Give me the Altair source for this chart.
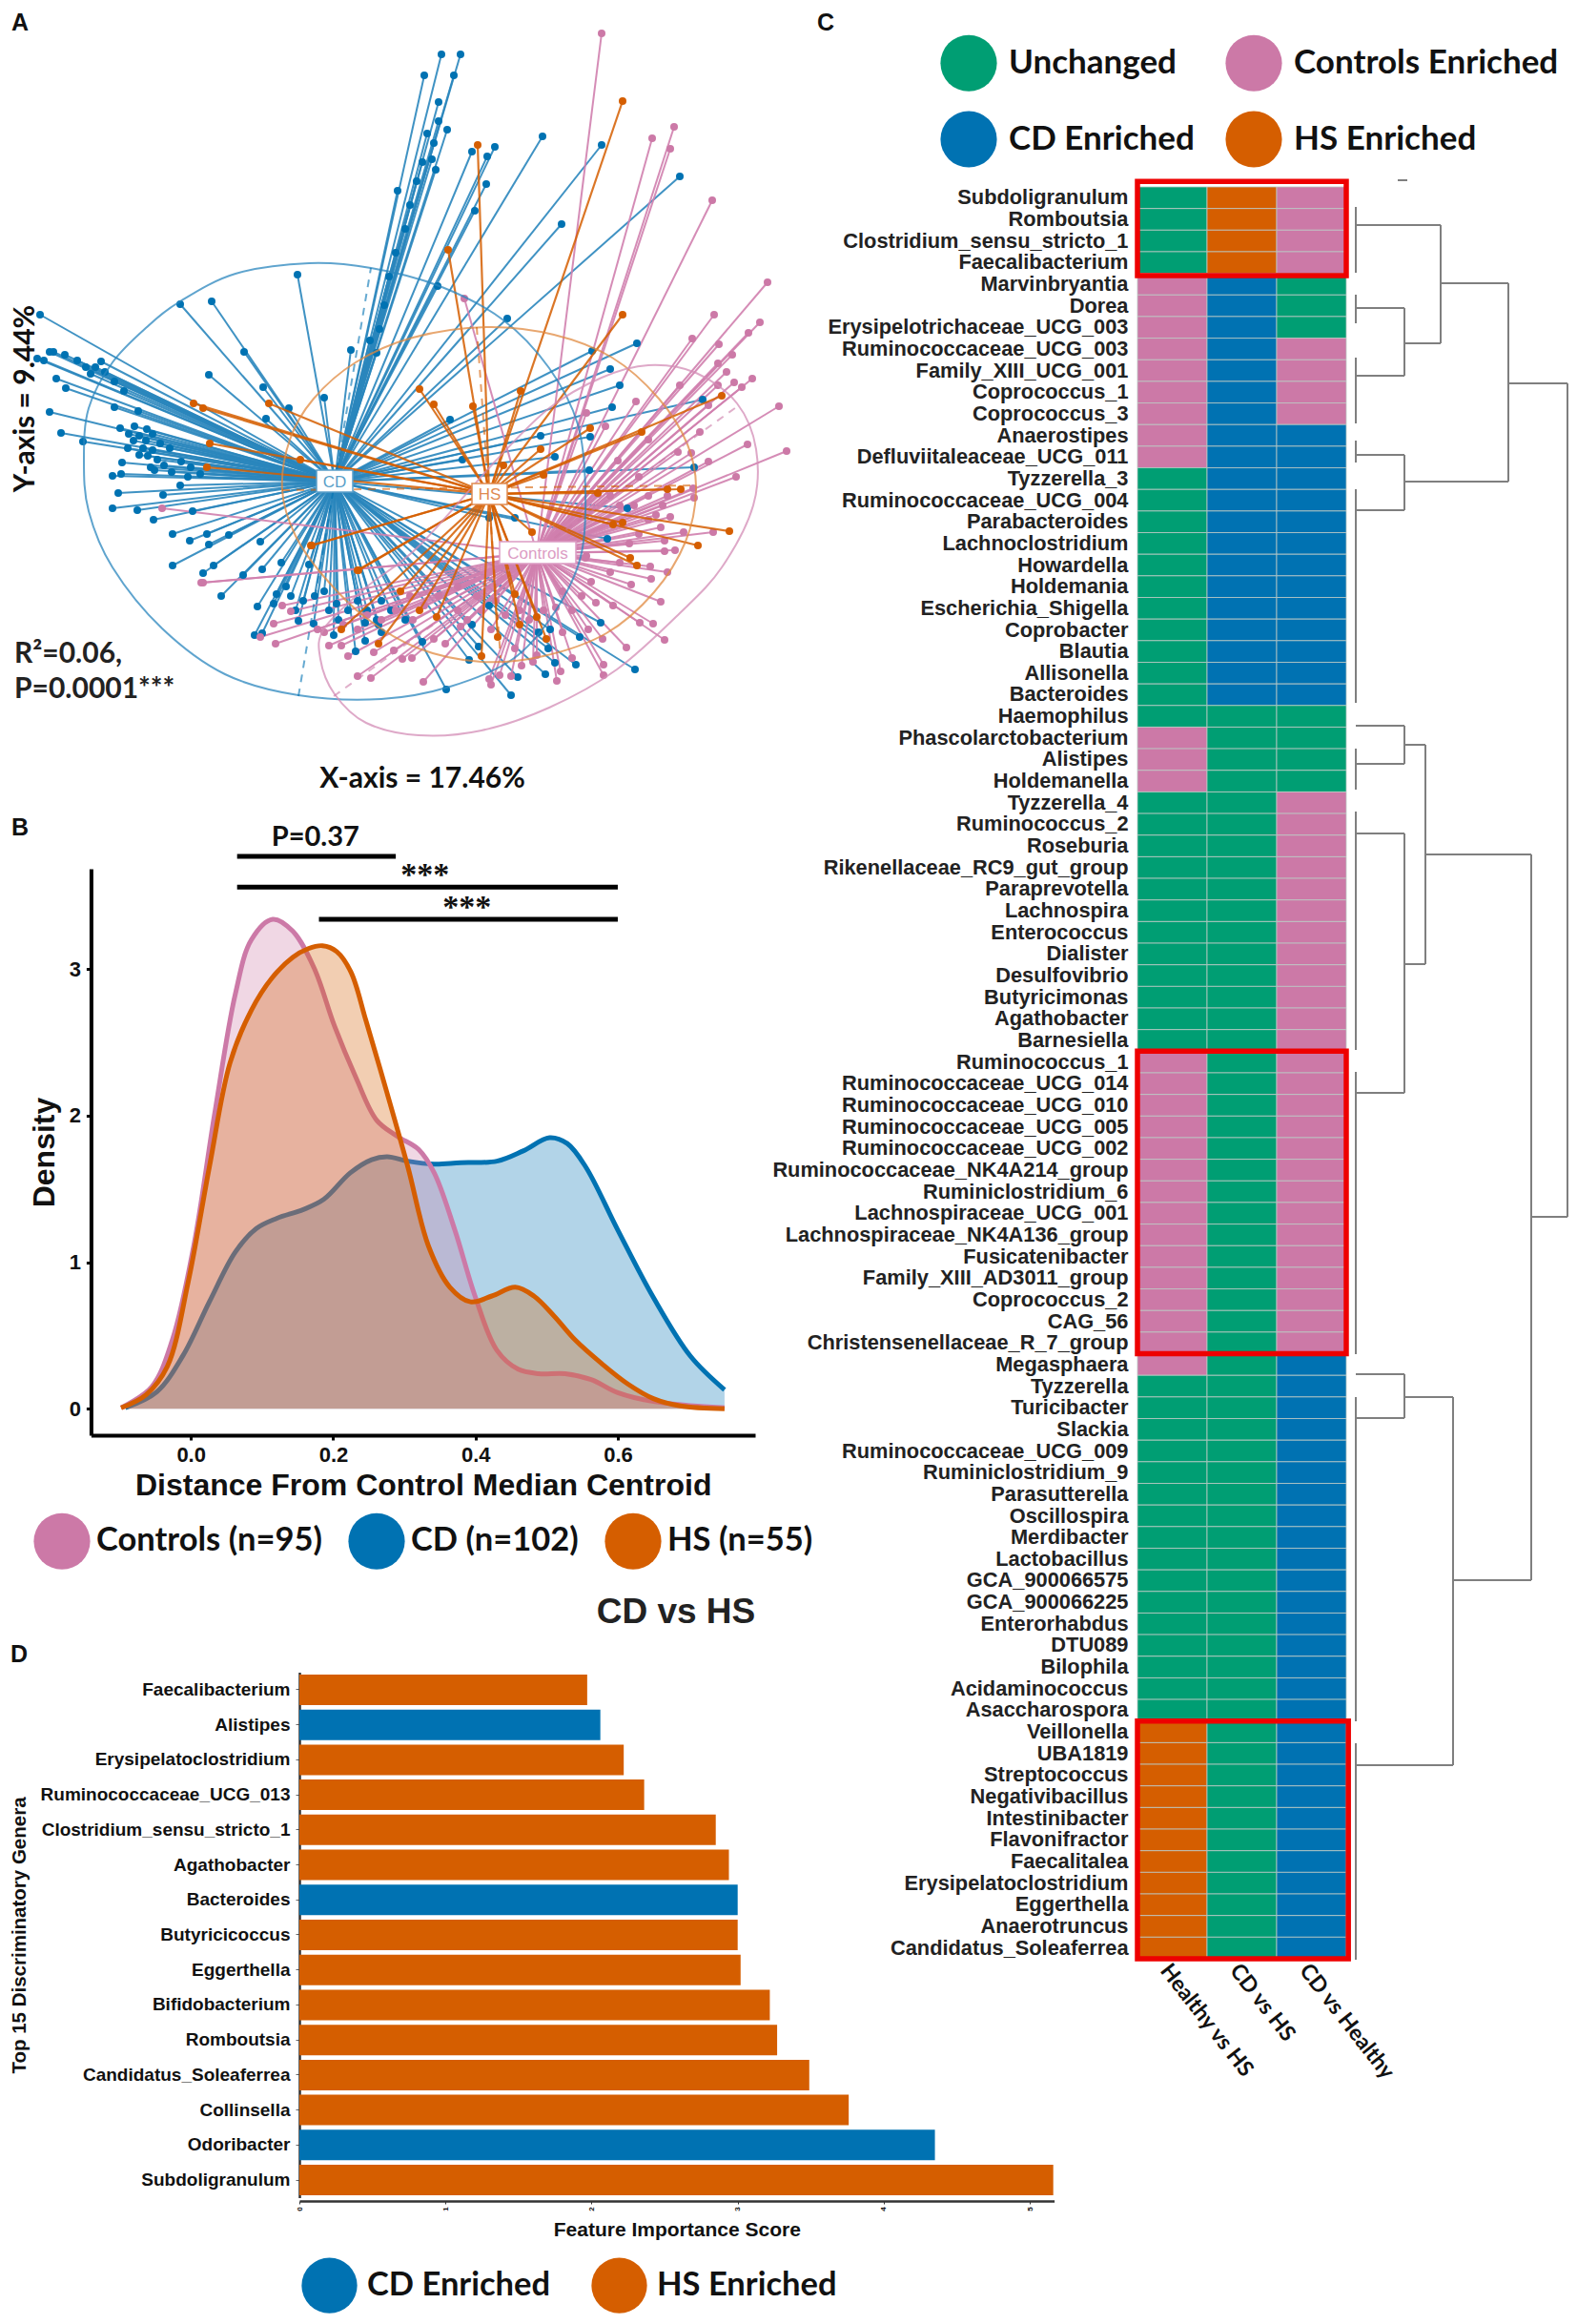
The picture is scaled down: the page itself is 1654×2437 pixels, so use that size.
import altair as alt
import pandas as pd

W, H = 1638, 2421
M = 8  # page margin
PINK, BLUE, ORANGE, GREEN = "#CC79A7", "#0072B2", "#D55E00", "#009E73"

# ---------- Panel A: PCoA (axis units) ----------
centroid_cd = (351, 505)
centroid_hs = (513, 518)
centroid_ctrl = (563, 580)

cd_points = [
    (463,57),(483,57),(445,79),(476,79),(460,107),(460,127),(469,136),(453,167),(457,178),(417,200),
    (495,159),(511,164),(519,154),(510,193),(498,221),(569,143),(631,152),(589,235),(713,185),(312,288),
    (42,330),(39,376),(46,378),(52,369),(56,369),(68,372),(81,378),(106,379),(59,397),(69,407),
    (52,432),(64,454),(87,463),(120,427),(126,449),(145,431),(141,447),(146,457),(154,450),(153,462),
    (134,470),(146,477),(128,485),(162,493),(118,499),(127,497),(197,500),(124,517),(189,509),(171,519),
    (118,533),(144,535),(202,536),(161,545),(181,560),(199,567),(217,560),(219,571),(240,561),(273,568),
    (181,593),(213,601),(224,593),(255,603),(275,597),(295,590),(324,592),(256,369),(276,406),(303,428),
    (279,439),(219,393),(189,319),(222,316),(340,417),(368,367),(388,357),(267,666),(275,664),(232,625),
    (270,636),(287,633),(290,623),(300,615),(313,651),(329,654),(350,666),(373,683),(383,672),(383,653),
    (400,663),(397,655),(443,673),(468,723),(492,692),(502,678),(495,655),(513,635),(536,729),(543,710),
    (572,707),(582,695),(604,697),(608,668),(630,653),(666,702),(575,680),(565,663),(577,660),(353,633),
    (400,630),(637,565),(540,543),(513,543),(668,360),(621,368),(640,387),(650,404),(642,427),(619,458),
    (567,457),(582,479),(532,334),(485,482),(618,493),(737,419),(728,490),(658,533),(459,300),(472,440),
    (150,470),(155,478),(160,472),(165,482),(158,490),(172,488),(180,495),(190,484),(200,490),(210,497),
    (140,462),(135,455),(160,455),(168,465),(178,470),(100,385),(110,390),(120,400),(130,410),(90,385),(95,392),
    (448,140),(455,150),(443,170),(437,190),(430,215),(425,240),(415,265),(408,290),(403,320),(398,345),(395,370),
    (345,640),(355,650),(365,640),(375,630),(340,620),(330,625),(310,640),(318,630),(305,625),(385,640),(395,650),(410,640),(425,650),
]

hs_points = [
    (501,152),(653,106),(470,262),(653,330),(440,408),(455,424),(496,426),(546,410),(203,423),(213,428),
    (282,423),(220,465),(217,490),(315,482),(327,572),(375,598),(619,449),(567,471),(528,488),(570,498),
    (673,453),(757,415),(700,513),(714,513),(765,557),(732,572),(661,585),(668,593),(643,550),(653,548),
    (627,517),(558,558),(358,660),(397,675),(458,647),(505,688),(573,670),(563,647),(545,655),(522,668),
    (540,623),(376,598),(326,572),(440,640),(420,620),
]

ctrl_points = [
    (631,35),(707,133),(684,145),(703,156),(747,210),(805,296),(487,313),(749,330),(726,355),(754,361),
    (797,338),(785,349),(768,372),(753,381),(762,390),(789,397),(770,401),(778,406),(753,404),(713,404),
    (667,421),(743,425),(817,426),(734,453),(784,466),(825,473),(743,484),(711,474),(725,475),(680,461),
    (635,447),(615,433),(772,500),(727,512),(728,522),(695,530),(703,542),(688,540),(693,553),(748,558),
    (717,558),(697,567),(708,577),(697,578),(648,483),(670,500),(615,583),(627,518),(213,611),(287,654),
    (273,668),(289,675),(296,635),(305,641),(333,660),(345,677),(358,677),(365,688),(392,684),(413,682),
    (422,691),(432,690),(375,709),(389,711),(444,715),(455,670),(467,675),(513,712),(515,718),(524,708),
    (536,709),(547,698),(559,694),(588,704),(584,714),(633,697),(633,708),(632,670),(657,679),(671,653),
    (685,654),(643,635),(625,632),(662,613),(683,607),(682,594),(614,585),(693,631),(697,671),(583,637),
    (340,663),(483,657),(433,650),(540,680),(617,660),(563,687),(590,663),(170,533),(211,611),(600,690),
    (480,640),(490,650),(505,640),(515,660),(530,645),(545,640),(555,650),(570,640),(520,630),(500,625),
    (480,615),(460,625),(445,635),(430,625),(415,640),(400,650),(385,645),(375,660),(360,655),(600,640),
    (610,625),(640,600),(650,590),(660,570),(670,560),(680,545),(700,520),(665,530),(650,530),(640,520),
    (680,520),(620,610),(590,620),(700,600),
]

blue_ring = [(88,482),(93,428),(118,380),(154,343),(189,316),(247,287),(324,276),(389,281),(461,300),(527,335),
             (576,386),(606,445),(614,514),(609,584),(581,643),(538,691),(472,720),(400,733),(313,729),(236,707),
             (170,659),(118,595),(93,536)]
orange_ring = [(296,514),(304,461),(329,418),(373,380),(433,354),(510,343),(581,351),(642,375),(691,418),(721,466),
               (730,514),(719,568),(686,621),(636,664),(570,688),(505,694),(439,680),(384,648),(340,605),(310,562)]
pink_ring = [(631,396),(680,383),(730,391),(773,423),(793,471),(790,530),(757,595),(713,643),(647,702),(576,742),
             (505,766),(439,771),(384,758),(351,728),(336,691),(340,659),(384,616),(439,573),(521,482),(576,428)]

major_axes = [
    (BLUE, 313, 730, 389, 281),
    (PINK, 350, 730, 775, 425),
    (ORANGE, 500, 343, 525, 690),
    (ORANGE, 296, 514, 730, 509),
]

# ---------- Panel B: density ----------
dens_ctrl_x = [-0.098,-0.055,-0.026,0.004,0.033,0.0625,0.085,0.115,0.143,0.173,0.202,0.232,0.261,0.29,0.32,0.342,0.371,0.40,0.43,0.46,0.489,0.526,0.5625,0.6,0.65,0.75]
dens_ctrl_y = [0.007,0.15,0.47,1.11,2.0,2.83,3.2,3.34,3.26,3.01,2.61,2.26,1.97,1.86,1.77,1.61,1.22,0.76,0.40,0.27,0.24,0.24,0.2,0.11,0.05,0.007]
dens_cd_x = [-0.092,-0.048,-0.011,0.026,0.0625,0.092,0.121,0.158,0.187,0.224,0.254,0.276,0.305,0.342,0.379,0.43,0.467,0.504,0.529,0.555,0.6,0.65,0.702,0.75]
dens_cd_y = [0.007,0.115,0.364,0.73,1.07,1.23,1.3,1.36,1.43,1.61,1.70,1.72,1.69,1.67,1.68,1.69,1.76,1.85,1.81,1.65,1.22,0.76,0.36,0.13]
dens_hs_x = [-0.098,-0.063,-0.033,-0.004,0.026,0.055,0.085,0.114,0.143,0.165,0.185,0.205,0.225,0.246,0.276,0.305,0.334,0.364,0.393,0.423,0.456,0.482,0.511,0.54,0.577,0.614,0.65,0.688,0.75]
dens_hs_y = [0.007,0.096,0.29,0.86,1.65,2.36,2.72,2.94,3.08,3.14,3.16,3.12,2.98,2.65,2.15,1.65,1.11,0.83,0.73,0.77,0.83,0.77,0.63,0.47,0.31,0.17,0.07,0.02,0.0]
groups_b = ["Controls (n=95)", "CD (n=102)", "HS (n=55)"]
sig_bars = [(0.065,0.288,3.77),(0.065,0.6,3.56),(0.18,0.6,3.34)]
sig_text = [(0.175,3.90,"P=0.37",False),(0.329,3.64,"***",True),(0.388,3.42,"***",True)]

# ---------- Panel C: heatmap ----------
genera = [
 "Subdoligranulum","Romboutsia","Clostridium_sensu_stricto_1","Faecalibacterium","Marvinbryantia","Dorea",
 "Erysipelotrichaceae_UCG_003","Ruminococcaceae_UCG_003","Family_XIII_UCG_001","Coprococcus_1","Coprococcus_3",
 "Anaerostipes","Defluviitaleaceae_UCG_011","Tyzzerella_3","Ruminococcaceae_UCG_004","Parabacteroides",
 "Lachnoclostridium","Howardella","Holdemania","Escherichia_Shigella","Coprobacter","Blautia","Allisonella",
 "Bacteroides","Haemophilus","Phascolarctobacterium","Alistipes","Holdemanella","Tyzzerella_4","Ruminococcus_2",
 "Roseburia","Rikenellaceae_RC9_gut_group","Paraprevotella","Lachnospira","Enterococcus","Dialister","Desulfovibrio",
 "Butyricimonas","Agathobacter","Barnesiella","Ruminococcus_1","Ruminococcaceae_UCG_014","Ruminococcaceae_UCG_010",
 "Ruminococcaceae_UCG_005","Ruminococcaceae_UCG_002","Ruminococcaceae_NK4A214_group","Ruminiclostridium_6",
 "Lachnospiraceae_UCG_001","Lachnospiraceae_NK4A136_group","Fusicatenibacter","Family_XIII_AD3011_group",
 "Coprococcus_2","CAG_56","Christensenellaceae_R_7_group","Megasphaera","Tyzzerella","Turicibacter","Slackia",
 "Ruminococcaceae_UCG_009","Ruminiclostridium_9","Parasutterella","Oscillospira","Merdibacter","Lactobacillus",
 "GCA_900066575","GCA_900066225","Enterorhabdus","DTU089","Bilophila","Acidaminococcus","Asaccharospora",
 "Veillonella","UBA1819","Streptococcus","Negativibacillus","Intestinibacter","Flavonifractor","Faecalitalea",
 "Erysipelatoclostridium","Eggerthella","Anaerotruncus","Candidatus_Soleaferrea",
]
U, C, D, S = "Unchanged", "Controls Enriched", "CD Enriched", "HS Enriched"
col_names = ["Healthy vs HS", "CD vs HS", "CD vs Healthy"]
col_healthy_hs = [U]*4 + [C]*9 + [U]*12 + [C]*3 + [U]*12 + [C]*15 + [U]*16 + [S]*11
col_cd_hs      = [S]*4 + [D]*20 + [U]*58
col_cd_healthy = [C]*4 + [U]*3 + [C]*4 + [D]*13 + [U]*4 + [C]*26 + [D]*28
status_order = [U, D, C, S]
frames = [(0,3,-0.25,4.1),(0,3,40,54),(0,3.03,71,82)]

# dendrogram segments: height_from, height_to, position_from, position_to
dendro = [
 (1422,1422,217,286),(1422,1422,309,339),(1422,1422,375,444),(1422,1422,462,485),(1422,1422,513,737),
 (1422,1422,785,828),(1422,1422,851,1101),(1422,1422,1124,1420),(1422,1422,1465,1805),(1422,1422,1828,2055),
 (1422,1511,236,236),(1511,1511,236,360),(1473,1511,360,360),(1473,1473,323,394),(1422,1473,323,323),(1422,1473,394,394),
 (1511,1582,297,297),(1582,1582,297,505),(1473,1582,505,505),(1473,1473,477,535),(1422,1473,477,477),(1422,1473,535,535),
 (1582,1644,402,402),(1644,1644,402,1276),(1606,1644,1276,1276),(1606,1606,896,1657),(1495,1606,896,896),(1495,1495,781,1011),
 (1473,1495,781,781),(1473,1473,761,801),(1422,1473,761,761),(1422,1473,801,801),(1473,1473,874,1146),(1422,1473,874,874),
 (1422,1473,1146,1146),(1473,1495,1011,1011),(1524,1606,1657,1657),(1524,1524,1465,1851),(1473,1524,1465,1465),
 (1473,1473,1441,1487),(1422,1473,1441,1441),(1422,1473,1487,1487),(1422,1524,1851,1851),(1466,1476,189,189),
]

# ---------- Panel D: bars ----------
top15 = ["Faecalibacterium","Alistipes","Erysipelatoclostridium","Ruminococcaceae_UCG_013","Clostridium_sensu_stricto_1",
         "Agathobacter","Bacteroides","Butyricicoccus","Eggerthella","Bifidobacterium","Romboutsia","Candidatus_Soleaferrea",
         "Collinsella","Odoribacter","Subdoligranulum"]
top15_score = [1.97,2.06,2.22,2.36,2.85,2.94,3.0,3.0,3.02,3.22,3.27,3.49,3.76,4.35,5.16]
top15_group = ["HS Enriched","CD Enriched","HS Enriched","HS Enriched","HS Enriched","HS Enriched","CD Enriched",
               "HS Enriched","HS Enriched","HS Enriched","HS Enriched","HS Enriched","HS Enriched","CD Enriched","HS Enriched"]

# ---------- Helpers ----------
def rng(a, b):
    return [a - M, b - M]

def qx(f, dom, r, **kw):
    kw.setdefault("axis", None)
    return alt.X(f, type="quantitative", scale=alt.Scale(domain=dom, range=rng(*r), zero=False, nice=False), **kw)

def qy(f, dom, r, **kw):
    kw.setdefault("axis", None)
    return alt.Y(f, type="quantitative", scale=alt.Scale(domain=dom, range=rng(*r), zero=False, nice=False), **kw)

layers = []

def ax(f): return qx(f, [0, 840], (0, 840))
def ay(f): return qy(f, [0, 840], (0, 840))

def note(text, x, y, size, font="Lato", weight="bold", color="#111", angle=0, align="center"):
    layers.append(alt.Chart(pd.DataFrame({"t": [text]})).mark_text(
        font=font, fontWeight=weight, fontSize=size, color=color, angle=angle, align=align, baseline="middle"
    ).encode(x=alt.value(x - M), y=alt.value(y - M), text="t:N"))

def spider(points, c, color, width, opacity):
    df = pd.DataFrame({"x": [p[0] for p in points], "y": [p[1] for p in points], "cx": c[0], "cy": c[1]})
    layers.append(alt.Chart(df).mark_rule(color=color, strokeWidth=width, opacity=opacity).encode(
        x=ax("x"), y=ay("y"), x2="cx:Q", y2="cy:Q"))

def dots(points, color):
    df = pd.DataFrame({"x": [p[0] for p in points], "y": [p[1] for p in points]})
    layers.append(alt.Chart(df).mark_circle(color=color, size=64, opacity=1).encode(x=ax("x"), y=ay("y")))

def ring(points, color):
    df = pd.DataFrame({"x": [p[0] for p in points], "y": [p[1] for p in points], "i": range(len(points))})
    layers.append(alt.Chart(df).mark_line(color=color, strokeWidth=2, opacity=.75, interpolate="cardinal-closed").encode(
        x=ax("x"), y=ay("y"), order="i:Q"))

# Panel A
spider(cd_points, centroid_cd, "#2a86bd", 2, .9)
spider(ctrl_points, centroid_ctrl, "#d07fae", 2, .9)
dots(cd_points, BLUE)
dots(ctrl_points, PINK)
spider(hs_points, centroid_hs, ORANGE, 2.2, .85)
dots(hs_points, ORANGE)
ring(blue_ring, "#2a86bd"); ring(orange_ring, "#e08a40"); ring(pink_ring, "#d38cb6")
for col, x0, y0, x1, y1 in major_axes:
    layers.append(alt.Chart(pd.DataFrame({"x": [x0], "y": [y0], "x1": [x1], "y1": [y1]})).mark_rule(
        color=col, strokeWidth=2, strokeDash=[8, 7], opacity=.6).encode(x=ax("x"), y=ay("y"), x2="x1:Q", y2="y1:Q"))
boxes = [("CD", 332, 370, 493, 516, "#5a9fc9"), ("HS", 495, 532, 507, 529, "#e08a50"), ("Controls", 524, 604, 568, 591, "#dc9cc4")]
for name, x0, x1, y0, y1, col in boxes:
    layers.append(alt.Chart(pd.DataFrame({"x": [x0], "x1": [x1], "y": [y0], "y1": [y1]})).mark_rect(
        fill="white", stroke=col, strokeWidth=1.5).encode(x=ax("x"), x2="x1:Q", y=ay("y"), y2="y1:Q"))
    note(name, (x0 + x1) / 2, (y0 + y1) / 2 + 1, 17, font="Liberation Sans", weight="normal", color=col)
note("Y-axis = 9.44%", 27, 418, 30, angle=270)
note("X-axis = 17.46%", 443, 817, 30)
note("R²=0.06,", 15, 686, 30, align="left", color="#222")
note("P=0.0001***", 15, 723, 30, align="left", color="#222")
for letter, x, y in [("A", 21, 24), ("B", 21, 868), ("C", 866, 24), ("D", 20, 1735)]:
    note(letter, x, y, 25, font="Liberation Sans")

# Panel B
BX, BXR = [-0.1404, 0.793], (95.4, 792)
BY, BYR = [-0.18, 3.685], (1505, 911)
def bx(f, **k): return qx(f, BX, BXR, **k)
def by(f, **k): return qy(f, BY, BYR, **k)
group_scale = alt.Scale(domain=groups_b, range=[PINK, BLUE, ORANGE])
axis_font = dict(labelFont="Liberation Sans", labelFontWeight="bold", titleFont="Liberation Sans", titleFontWeight="bold",
                 labelColor="#111", titleColor="#111", grid=False)
for idx, (name, xs, ys, col) in enumerate([(groups_b[1], dens_cd_x, dens_cd_y, BLUE),
                                           (groups_b[0], dens_ctrl_x, dens_ctrl_y, PINK),
                                           (groups_b[2], dens_hs_x, dens_hs_y, ORANGE)]):
    df = pd.DataFrame({"x": xs, "y": ys, "g": name})
    if idx == 0:
        area = alt.Chart(df).mark_area(interpolate="catmull-rom", fillOpacity=.3).encode(
            x=bx("x", axis=alt.Axis(values=[0, .2, .4, .6], format=".1f", orient="bottom", offset=(1505 - M) - H,
                                    title="Distance From Control Median Centroid", labelFontSize=22, titleFontSize=32,
                                    domainColor="black", domainWidth=4, tickColor="black", tickWidth=3, tickSize=5,
                                    labelPadding=5, titlePadding=6, **axis_font)),
            y=by("y", axis=alt.Axis(values=[0, 1, 2, 3], format="d", orient="left", offset=-(95.4 - M),
                                    title="Density", labelFontSize=22, titleFontSize=32,
                                    domainColor="black", domainWidth=4, tickColor="black", tickWidth=3, tickSize=5,
                                    labelPadding=6, titlePadding=9, **axis_font)),
            color=alt.Color("g:N", scale=group_scale, legend=alt.Legend(
                orient="none", legendX=35 - M, legendY=1586 - M, direction="horizontal", columns=3, title=None,
                symbolType="circle", symbolSize=3500, symbolOpacity=1, symbolStrokeWidth=0, labelFont="Lato",
                labelFontWeight="bold", labelFontSize=34.5, labelColor="#111", labelLimit=600, labelOffset=6,
                columnPadding=27, padding=0)),
        )
    else:
        area = alt.Chart(df).mark_area(interpolate="catmull-rom", fillOpacity=.3, color=col).encode(x=bx("x"), y=by("y"))
    layers.append(area)
    layers.append(alt.Chart(df).mark_line(interpolate="catmull-rom", strokeWidth=5, color=col).encode(x=bx("x"), y=by("y")))
for x0, x1, yv in sig_bars:
    layers.append(alt.Chart(pd.DataFrame({"x": [x0], "x1": [x1], "y": [yv]})).mark_rule(color="black", strokeWidth=5).encode(
        x=bx("x"), x2="x1:Q", y=by("y")))
for xv, yv, t, stars in sig_text:
    layers.append(alt.Chart(pd.DataFrame({"x": [xv], "y": [yv], "t": [t]})).mark_text(
        font="Lato" if not stars else "Liberation Serif", fontWeight="bold", fontSize=29 if not stars else 34,
        color="#111", baseline="middle").encode(x=bx("x"), y=by("y"), text="t:N"))
note("CD vs HS", 709, 1691, 37, font="Liberation Sans", color="#222")

# Panel C
rows = []
for g, a, b, c in zip(genera, col_healthy_hs, col_cd_hs, col_cd_healthy):
    rows += [(g, col_names[0], a), (g, col_names[1], b), (g, col_names[2], c)]
hm = pd.DataFrame(rows, columns=["g", "c", "s"])
layers.append(alt.Chart(hm).mark_rect(stroke="#bcc9c4", strokeWidth=1, strokeOpacity=.8).encode(
    x=alt.X("c:N", sort=col_names, scale=alt.Scale(domain=col_names, range=rng(1193, 1412), paddingInner=0, paddingOuter=0),
            axis=alt.Axis(orient="bottom", offset=(2054 - M) - H, title=None, domain=False, ticks=False, labelAngle=52,
                          labelAlign="left", labelBaseline="middle", labelFont="Lato", labelFontWeight="bold",
                          labelFontSize=23, labelColor="#111", labelPadding=8, labelOffset=-8, labelLimit=400, grid=False)),
    y=alt.Y("g:N", sort=genera, scale=alt.Scale(domain=genera, range=rng(196, 2054), paddingInner=0, paddingOuter=0),
            axis=alt.Axis(orient="left", offset=-(1193 - M), title=None, domain=False, ticks=False, labelFont="Liberation Sans",
                          labelFontWeight="bold", labelFontSize=21.8, labelColor="#222", labelPadding=10, labelLimit=500,
                          grid=False, labelOverlap=False)),
    color=alt.Color("s:N", scale=alt.Scale(domain=status_order, range=[GREEN, BLUE, PINK, ORANGE]), legend=alt.Legend(
        orient="none", legendX=986 - M, legendY=36 - M, columns=2, title=None, symbolType="circle", symbolSize=3500,
        symbolStrokeWidth=0, symbolOpacity=1, labelFont="Lato", labelFontWeight="bold", labelFontSize=35, labelColor="#111",
        labelLimit=600, labelOffset=12, columnPadding=32, rowPadding=20, padding=0)),
))
for x0, x1, r0, r1 in frames:
    layers.append(alt.Chart(pd.DataFrame({"x": [x0], "x1": [x1], "r": [r0], "r1": [r1]})).mark_rect(
        fill=None, fillOpacity=0, stroke="#EE0000", strokeWidth=5.5).encode(
        x=qx("x", [0, 3], (1193, 1412)), x2="x1:Q", y=qy("r", [0, 82], (196, 2054)), y2="r1:Q"))
dn = pd.DataFrame(dendro, columns=["h0", "h1", "p0", "p1"])
layers.append(alt.Chart(dn).mark_rule(color="#7f7f7f", strokeWidth=2).encode(
    x=qx("h0", [1400, 1654], (1400, 1654)), x2="h1:Q", y=qy("p0", [0, 2437], (0, 2437)), y2="p1:Q"))

# Panel D
bars = pd.DataFrame({"g": top15, "v": top15_score, "s": top15_group})
layers.append(alt.Chart(bars).mark_bar(size=32).encode(
    x=qx("v", [0, 5.166], (314, 1105.6), axis=alt.Axis(values=[0, 1, 2, 3, 4, 5], format="d", orient="bottom", offset=(2308 - M) - H,
            title="Feature Importance Score", labelFontSize=8, titleFontSize=21, labelAngle=-90, labelAlign="center",
            labelBaseline="middle", domainColor="#333", domainWidth=2.5, tickColor="#333", tickSize=3, labelPadding=5,
            titlePadding=9, **axis_font)),
    y=alt.Y("g:N", sort=top15, scale=alt.Scale(domain=top15, range=rng(1753.6, 2304.4), paddingInner=.12, paddingOuter=.06),
            axis=alt.Axis(orient="left", offset=-(314 - M), title="Top 15 Discriminatory Genera", labelFontSize=19,
                          titleFontSize=20.5, domainColor="#333", domainWidth=2.5, tickColor="#666", tickSize=4, labelPadding=6,
                          labelLimit=400, titleX=30 - 314, titleY=2029 - M, labelOverlap=False, **axis_font)),
    color=alt.Color("s:N", scale=alt.Scale(domain=["CD Enriched", "HS Enriched"], range=[BLUE, ORANGE]), legend=alt.Legend(
        orient="none", legendX=316 - M, legendY=2367 - M, direction="horizontal", columns=2, title=None, symbolType="circle",
        symbolSize=3400, symbolStrokeWidth=0, symbolOpacity=1, labelFont="Lato", labelFontWeight="bold", labelFontSize=34.5,
        labelColor="#111", labelLimit=600, labelOffset=10, columnPadding=42, padding=0)),
))

chart = alt.layer(*layers).resolve_scale(x="independent", y="independent", color="independent").properties(
    width=W, height=H, padding=0, autosize=alt.AutoSizeParams(type="none"), background="white"
).configure_view(stroke=None)

chart.save("out.html", embed_options={"renderer": "svg", "actions": False})
